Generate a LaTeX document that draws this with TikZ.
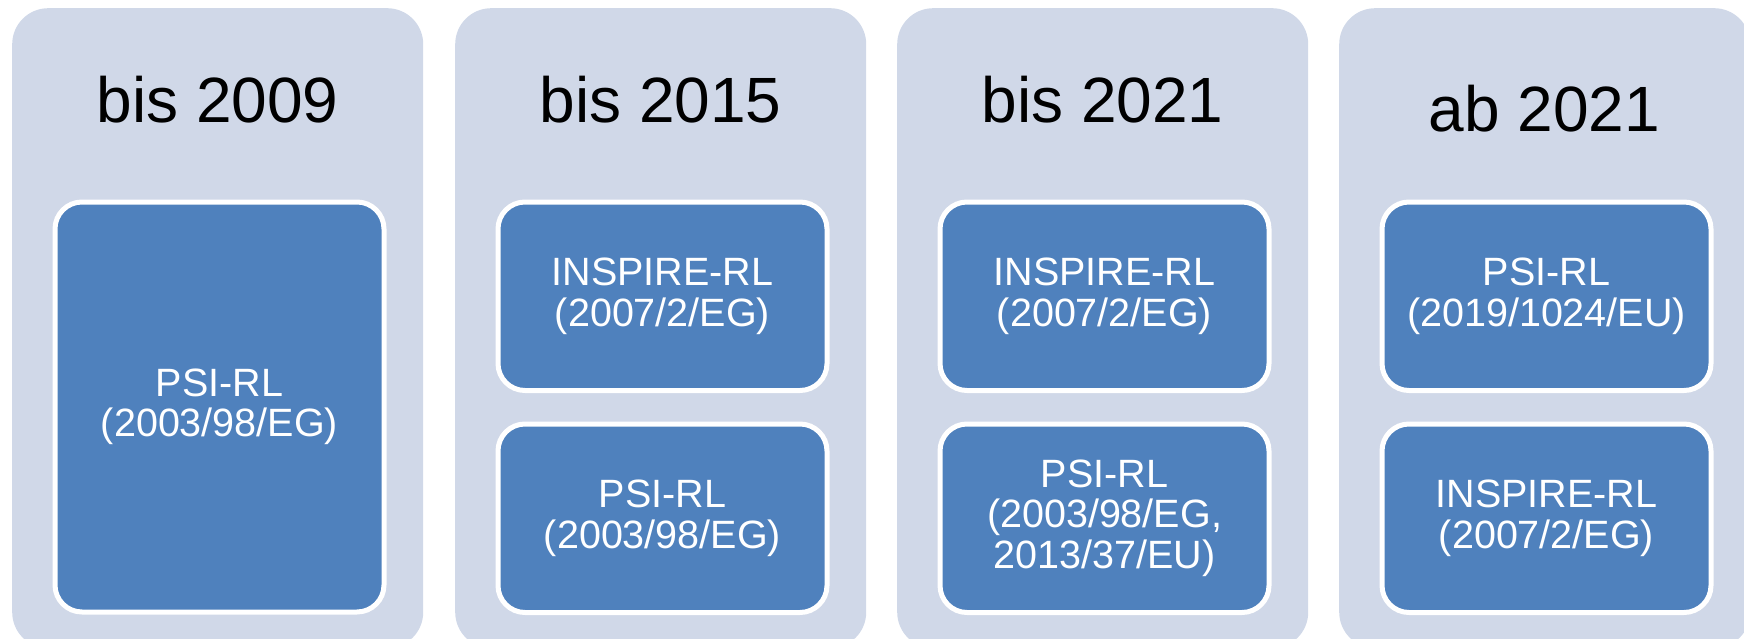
\documentclass[tikz,border=0pt]{standalone}
\usepackage{fontspec}
\setmainfont{Liberation Sans}
\definecolor{panelbg}{HTML}{D0D8E8}
\definecolor{boxblue}{HTML}{4F81BD}
\begin{document}
\begin{tikzpicture}[x=1pt,y=-1pt,
  panel/.style={fill=panelbg, rounded corners=36pt, minimum width=411pt, minimum height=640pt, anchor=north west, inner sep=0pt},
  yearlabel/.style={font=\fontsize{64}{70}\selectfont, text=black, anchor=base, inner sep=0pt},
  law/.style={draw=white, line width=5pt, fill=boxblue, rounded corners=27pt, minimum width=329pt, text=white, align=center, font=\fontsize{39.5}{40.5}\selectfont, inner sep=0pt, anchor=north west},
  tallbox/.style={law, minimum height=410pt},
  halfbox/.style={law, minimum height=188.5pt}]
\useasboundingbox (0,0) rectangle (1744,639);
\clip (0,0) rectangle (1744,639);
% panels
\node[panel] (p1) at (12,8) {};
\node[panel] (p2) at (455,8) {};
\node[panel] (p3) at (897,8) {};
\node[panel] (p4) at (1339,8) {};
% titles
\node[yearlabel] (t1) at (217.5,123) {bis 2009};
\node[yearlabel] (t2) at (660.5,123) {bis 2015};
\node[yearlabel] (t3) at (1102.5,123) {bis 2021};
\node[yearlabel] (t4) at (1544.5,132) {ab 2021};
% boxes
\node[tallbox] (b1) at (52.5,199.5) {PSI-RL\\(2003/98/EG)};
\node[halfbox] (b2a) at (495.5,199.5) {INSPIRE-RL\\(2007/2/EG)};
\node[halfbox] (b2b) at (495.5,421.5) {PSI-RL\\(2003/98/EG)};
\node[halfbox] (b3a) at (937.5,199.5) {INSPIRE-RL\\(2007/2/EG)};
\node[halfbox] (b3b) at (937.5,421.5) {PSI-RL\\(2003/98/EG,\\2013/37/EU)};
\node[halfbox] (b4a) at (1379.5,199.5) {PSI-RL\\(2019/1024/EU)};
\node[halfbox] (b4b) at (1379.5,421.5) {INSPIRE-RL\\(2007/2/EG)};
\end{tikzpicture}
\end{document}
